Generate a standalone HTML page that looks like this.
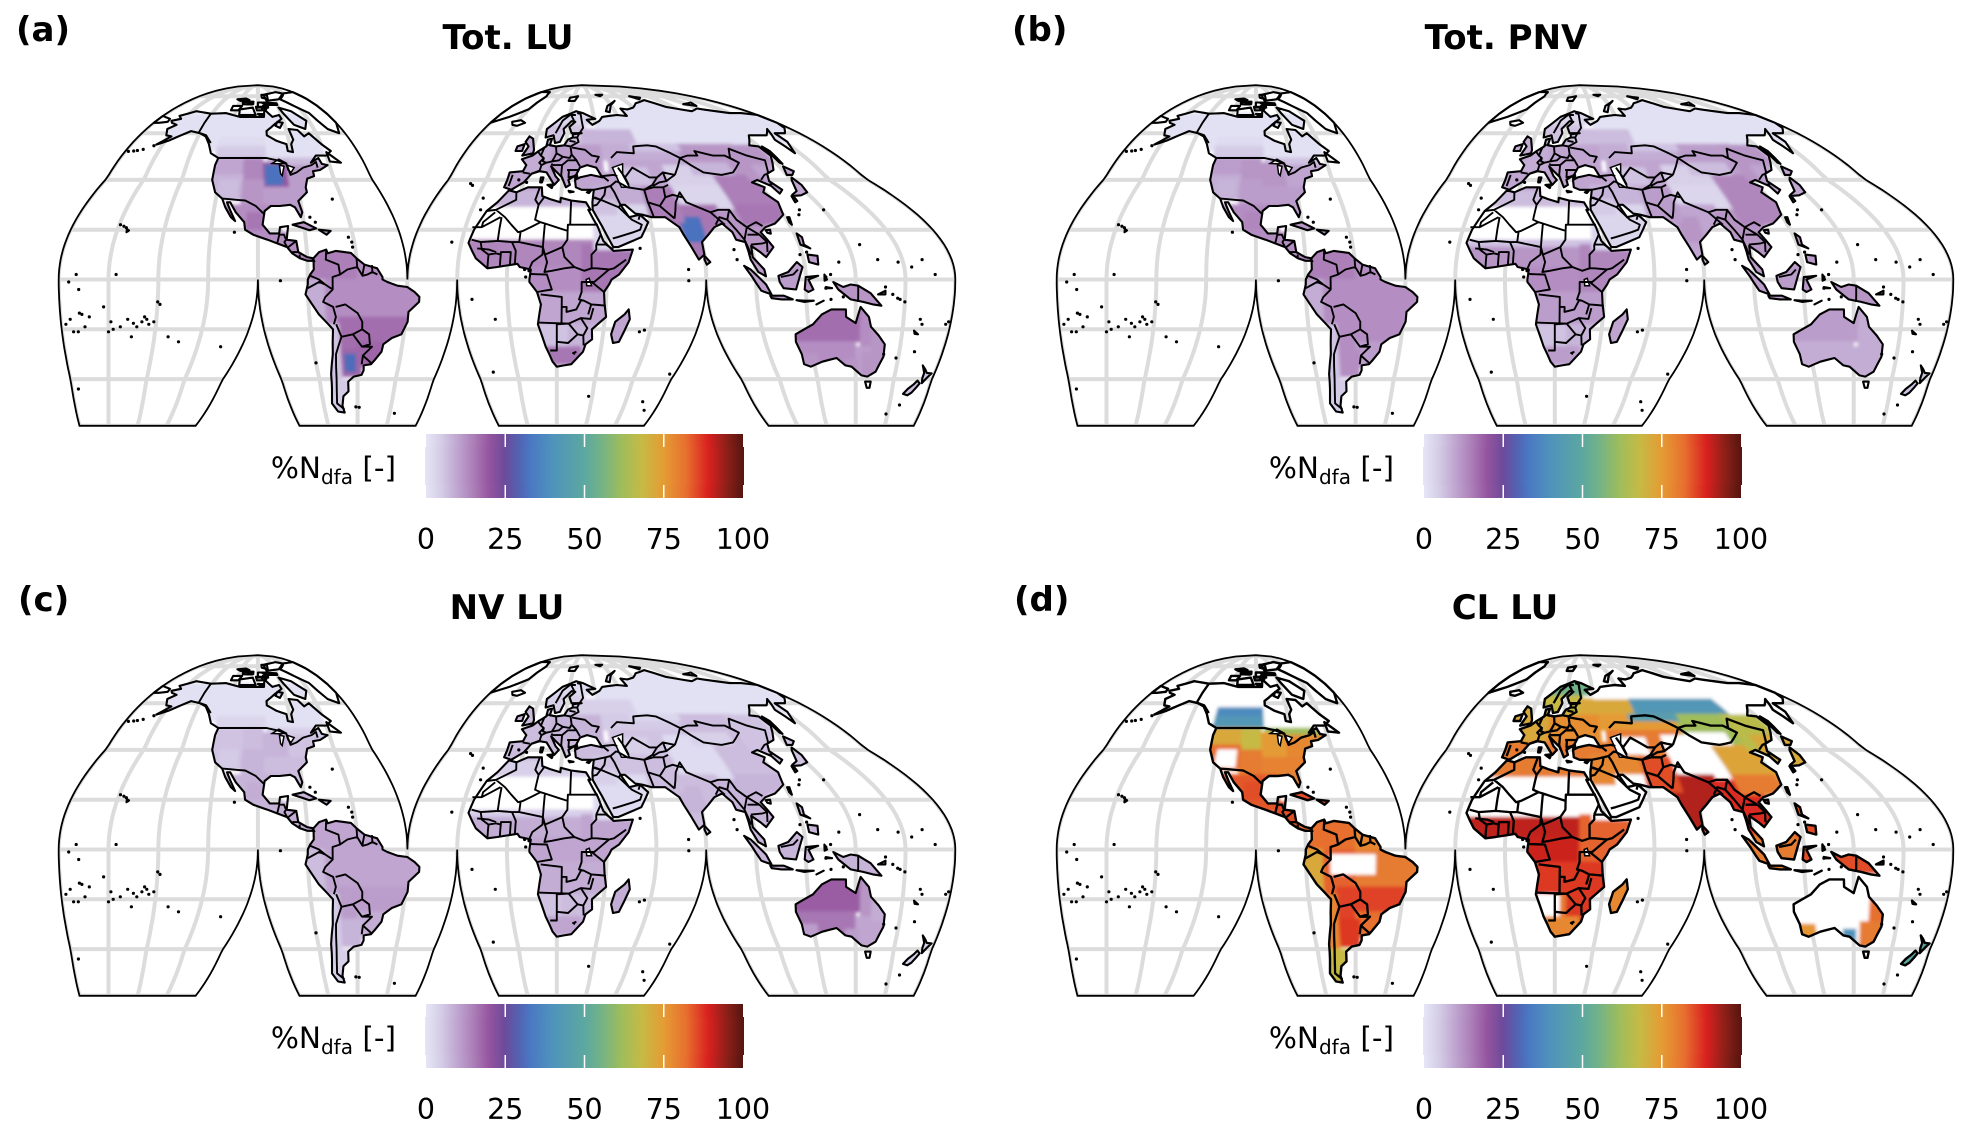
<!DOCTYPE html>
<html lang="en">
<head>
<meta charset="utf-8">
<title>Global maps of %Ndfa</title>
<style>
html,body{margin:0;padding:0;background:#fff}
svg{display:block}
text{font-family:"DejaVu Sans","Liberation Sans",sans-serif;fill:#000}
.panel-letter,.panel-title{font-weight:bold;font-size:34px}
.cb-label{font-size:29.5px}
.cb-tick{font-size:28.5px}
</style>
</head>
<body>
<svg id="figure" width="1974" height="1135" viewBox="0 0 1974 1135" xmlns="http://www.w3.org/2000/svg">
  <defs id="defs">
    <filter id="soften" x="-5%" y="-5%" width="110%" height="110%"><feGaussianBlur stdDeviation="1.6"/></filter>
  </defs>
  <rect width="1974" height="1135" fill="#fff"/>
  <g id="panel-a" transform="translate(0,0)">
    <text class="panel-letter" x="16" y="41">(a)</text>
    <text class="panel-title" x="508" y="49" text-anchor="middle">Tot. LU</text>
    <text class="cb-label" x="396" y="478" text-anchor="end">%N<tspan font-size="20" dy="6">dfa</tspan><tspan dy="-6"> [-]</tspan></text>
  </g>
  <g id="panel-b" transform="translate(998,0)">
    <text class="panel-letter" x="14" y="41">(b)</text>
    <text class="panel-title" x="508" y="49" text-anchor="middle">Tot. PNV</text>
    <text class="cb-label" x="396" y="478" text-anchor="end">%N<tspan font-size="20" dy="6">dfa</tspan><tspan dy="-6"> [-]</tspan></text>
  </g>
  <g id="panel-c" transform="translate(0,570)">
    <text class="panel-letter" x="18" y="41">(c)</text>
    <text class="panel-title" x="507" y="49" text-anchor="middle">NV LU</text>
    <text class="cb-label" x="396" y="478" text-anchor="end">%N<tspan font-size="20" dy="6">dfa</tspan><tspan dy="-6"> [-]</tspan></text>
  </g>
  <g id="panel-d" transform="translate(998,570)">
    <text class="panel-letter" x="16" y="41">(d)</text>
    <text class="panel-title" x="507" y="49" text-anchor="middle">CL LU</text>
    <text class="cb-label" x="396" y="478" text-anchor="end">%N<tspan font-size="20" dy="6">dfa</tspan><tspan dy="-6"> [-]</tspan></text>
  </g>
</svg>
<script>
const N = null;
const panelIds = ['a', 'b', 'c', 'd'];
const tickValues = [0, 25, 50, 75, 100];
const tickLabels = ['0', '25', '50', '75', '100'];
const colorStopValues = [0, 5, 10, 15, 20, 25, 30, 33, 40, 50, 55, 62, 68, 75, 82, 89, 95, 100];
const colorStopHexes = ['#e6e6f6', '#d4cbe6', '#bfa5d0', '#ac7fb8', '#95559f', '#6d4a9b', '#5066b5', '#4a78c2', '#4f93bc', '#5ca8a0', '#72b288', '#a0bd5a', '#c6ba45', '#e59b34', '#e76f2f', '#d9201f', '#8a1f18', '#561510'];

/* Geographic regions: [lonMin, latMin, lonMax, latMax] */
const regionBoxes = [
 /* North America */
 [-170,58,-60,70],[-170,52,-125,58],[-125,54,-95,58],[-125,49,-95,54],[-95,49,-60,58],[-95,46,-60,49],
 [-125,42,-108,49],[-108,40,-97,49],[-97,37,-84,47],[-84,37,-60,46],[-125,32,-108,42],[-108,30,-97,40],
 [-97,25,-75,37],[-120,33,-110,40],[-118,15,-90,30],[-105,20,-98,27],[-92,6,-75,19],[-85,17,-60,24],
 /* South America */
 [-82,0,-60,13],[-60,0,-48,13],[-82,-18,-73,0],[-73,-20,-60,0],[-60,-15,-34,0],[-70,-10,-52,-2],
 [-68,-30,-34,-15],[-60,-35,-48,-25],[-69,-39,-58,-28],[-76,-40,-68,-18],[-76,-56,-58,-40],
 /* Africa */
 [-20,29,40,38],[-20,24,40,29],[-20,16,40,24],[-20,13,40,16],[-20,5,40,13],[-20,-5,40,5],
 [30,-5,52,14],[10,-18,42,-5],[10,-35,25,-18],[12,-28,22,-18],[25,-35,40,-18],[15,-34,31,-27],[43,-26,51,-11],
 /* Eurasia */
 [-12,43,12,60],[12,43,42,55],[-12,36,45,43],[4,55,32,64],[4,64,40,72],[30,55,65,62],
 [40,62,180,78],[65,55,125,62],[42,48,90,55],[45,36,90,48],[50,38,66,45],[88,42,120,55],
 [75,28,100,38],[75,38,100,46],[100,22,125,42],[118,40,140,55],[125,55,180,62],[66,7,92,30],
 [73,15,82,25],[90,5,110,28],[100,22,120,30],[35,30,62,38],[35,12,60,30],[35,26,46,32],
 [60,23,75,37],[125,30,146,46],
 /* Oceania */
 [95,-10,120,6],[118,-12,155,2],[117,5,127,20],[113,-25,142,-10],[113,-39,140,-25],[142,-27,155,-10],
 [140,-40,155,-27],[113,-36,122,-30],[135,-39,141,-32],[165,-48,180,-34],
 /* Refinements */
 [60,52,90,55],[90,42,112,47],[147,-30,155,-15],[143,-40,155,-29],[-96,38,-87,46],[-66,-37,-61,-30]
];
const valuesTotLU = [
 1,1,2,5,1,7, 10,14,20,11,8,12, 11,7,13,16,13,12,
 15,13,9,13,13,13, 17,18,18,6,5,
 8,N,N,14,14,13, 16,10,6,6,8,16,10,
 9,11,10,6,3,8, 1,1,9,10,6,12, 3,4,15,12,1,16, 32,12,16,9,3,6, 15,10,
 11,12,11,17,13,13, 11,12,12,6,
 6,8,12,12,32,31
];
const valuesTotPNV = [
 1,1,2,5,1,6, 11,12,12,10,9,11, 11,8,13,14,13,12,
 15,13,9,13,13,13, 13,11,13,6,5,
 7,N,N,6,12,13, 14,11,6,6,8,11,10,
 9,10,10,6,3,7, 1,1,9,10,6,11, 3,4,14,12,1,10, 12,12,14,8,3,5, 11,10,
 11,12,11,11,9,9, 9,9,9,6,
 6,7,9,9,12,13
];
const valuesNVLU = [
 1,1,1,3,1,4, 6,7,8,6,6,8, 7,5,8,9,9,8,
 10,10,7,10,10,10, 11,9,8,5,4,
 4,N,N,4,9,10, 10,9,7,6,7,10,9,
 7,8,7,4,2,4, 1,1,5,6,4,7, 2,2,7,6,1,7, 8,8,8,6,2,4, 7,6,
 8,8,8,19,16,12, 10,11,11,4,
 3,4,9,10,8,8
];
const valuesCLLU = [
 N,N,38,42,N,62, 72,68,75,78,82,80, 79,N,84,85,85,85,
 82,78,72,83,80,N, 86,82,87,78,68,
 80,N,N,N,91,90, 83,87,80,N,87,78,78,
 72,77,80,68,55,72, N,42,75,80,N,62, N,N,73,66,N,92, 92,88,80,78,N,78, 85,72,
 80,85,85,N,N,N, N,76,40,50,
 45,N,82,80,75,87
];

/* Land outlines: lon,lat vertices */
const landPolygons = [
 [[-168,66],[-162,67],[-166,68.5],[-156,71],[-141,69.7],[-128,70],[-115,68],[-108,68],[-95,68],[-94,72],[-88,68],[-82,69],[-81,67],[-87,64.5],[-94,61],[-94,59],[-88,56.5],[-82,55],[-82,52],[-79,51.5],[-79,55],[-77,57],[-78,62],[-72,61.5],[-69,58.5],[-65,60],[-60,55],[-56,52],[-60,50],[-66,50],[-70,47],[-65,49],[-64,46.5],[-61,46],[-66,44],[-70,43.5],[-70,41.5],[-74,40.5],[-76,37],[-76,35],[-81,31.5],[-80,27],[-81,25],[-83,29],[-85,30],[-90,29.5],[-94,29.5],[-97,27.5],[-98,22],[-95,18.5],[-91,18.5],[-90.5,21],[-87,21.5],[-88,16],[-84,15.5],[-83.5,11],[-80,9],[-77.5,8.5],[-78,7.5],[-80,7.5],[-83,8.5],[-86,10.5],[-88,13],[-92,14.5],[-96,16],[-102,18],[-105.5,20],[-106,23],[-110,27],[-113,31],[-114.5,31],[-110,23.5],[-112,25],[-115,29],[-117,32.5],[-121,35],[-124,40],[-124,46],[-123,49],[-128,51],[-131,55],[-135,58.5],[-140,60],[-147,61],[-152,59],[-158,56.5],[-164,54.8],[-158,58.5],[-162,59],[-165,62],[-161,64],[-166,65]],
 [[-77.5,8.5],[-75,11],[-72,12],[-71.5,10.5],[-68,11.5],[-62,10.7],[-60,8.5],[-57,6],[-52,4.5],[-50,1],[-50,0],[-48,-1],[-44,-2.5],[-40,-3],[-37,-5],[-35,-7],[-35,-9],[-39,-13],[-39,-17],[-41,-22],[-45,-23.5],[-48.5,-26],[-49,-29],[-52,-32.5],[-53.5,-34],[-57,-34.5],[-57,-36.5],[-58,-38.3],[-62,-39],[-65,-41],[-65,-45],[-68,-47],[-69,-51],[-68,-54],[-72,-53.5],[-75,-50],[-74,-44],[-73.5,-38],[-71.5,-30],[-70.5,-20],[-76,-14],[-81,-6],[-80,-2],[-80,0],[-79,2],[-77.5,4],[-77.5,7]],
 [[-6,35.8],[-2,35],[3,37],[10,37],[11,33.5],[15,32.3],[20,31],[20,32.8],[25,31.7],[32,31],[34,28],[33,28],[37,21],[39,15.5],[43,11.5],[51,12],[49,7],[45,2],[42,0],[41,-2],[39,-5],[39.5,-10],[40.5,-15],[35,-20],[35.5,-24],[32.8,-26],[32,-29],[27,-34],[20,-35],[18,-33],[15,-27],[12,-18],[13.5,-10],[12,-5],[9,-1],[9,0],[9.5,4],[5,5],[4,6.3],[-4,5],[-8,4.5],[-13,8.5],[-17,14.7],[-16,20],[-13,27.5],[-9.5,31]],
 [[-9,37],[-9,43],[-2,43.5],[-1,46],[-4.5,48.5],[1,50],[4,52],[8,54],[8,57],[10.5,57.5],[10,54.5],[14,54],[19,54.5],[21,57],[24,58],[24,59.5],[30,60],[23,60],[21,63],[25,65.5],[22,65.8],[17,62],[18,60],[16,56],[13,55.5],[11,59],[6,58],[5,62],[14,68],[25,71],[31,70],[41,67],[34,66.5],[38,64],[44,66],[47,68],[60,69],[68,68.5],[67,72.5],[73,72],[80,73],[88,75.5],[104,77.5],[113,73.5],[130,71],[140,72.5],[160,70],[170,70],[179.9,69],[179.9,65],[177,62.5],[170,60],[163,60],[162,56],[157,51],[156,57],[163,62],[155,59],[143,59],[135,54.5],[140,54],[141,50],[135,44],[130,42.5],[127.5,39.5],[129.5,36],[126.5,34.5],[126,37.5],[122,40],[118,39],[122,37],[119,35],[122,31],[120,26],[114,22.5],[109,21],[106,19],[109,13],[105,9],[103,11],[100,13.5],[99.5,9],[103.5,4],[104,1.3],[101,3],[98.5,8],[98,15],[94.5,16],[94,19],[91,22.5],[87,21],[80,15],[80,10],[77.5,8],[73,18],[72,21],[67,25],[61,25],[57,26],[54,26.5],[50,30],[48,30],[51,25],[56,26],[59,23],[55,17],[45,13],[43,13],[39,21],[35,28],[35,31],[36,36],[30,36],[27,37],[26.5,40],[29,41],[35,42],[41,41],[38,45],[33,46],[29,45],[27,42],[23,40],[24,38],[22,37],[19.5,41],[13,45.5],[16,41.5],[18,40],[16,38],[11,43],[7,43.5],[3,42.5],[0,39],[-5,36]],
 [[114,-22],[122,-18],[126,-14],[130,-12],[136,-12],[136,-15],[140,-17.5],[142,-11],[145.5,-15],[146.5,-19],[150,-22.5],[153,-26],[153,-31],[150,-37],[146,-39],[143,-38.5],[138,-35],[135,-34.5],[131,-31.5],[124,-33],[118,-35],[115,-34],[115,-30],[113.5,-25]],
 [[49.5,-12],[50.5,-16],[47.5,-25],[45,-25.5],[43.5,-22],[44.5,-17],[48,-14]],
 [[-40.01,83],[-60,82],[-73,78],[-68,76],[-55,70],[-53,66],[-50,62],[-44,60],[-40.01,65]],
 [[-39.99,83],[-25,83],[-18,80],[-20,72],[-30,68],[-39.99,65]],
 [[-80,73],[-70,71],[-62,66],[-66,62],[-73,64],[-78,70]],
 [[-117,72],[-105,73],[-102,69],[-116,69]],
 [[-90,77],[-75,78],[-62,82],[-70,83],[-92,81]],
 [[-125,74],[-116,74],[-118,71.5],[-125,71.5]],
 [[-100,76],[-90,76],[-90,73],[-100,73]],
 [[-115,76.5],[-105,76.5],[-105,75],[-115,75]],
 [[-96,76],[-80,75.5],[-80,74.5],[-92,74.5]],
 [[-117,76.5],[-106,76],[-106,74.8],[-116,75]],
 [[-95,81],[-87,81],[-88,78],[-95,79]],
 [[-102,73.5],[-96,73.5],[-96,71.5],[-101,71.5]],
 [[-95,74],[-90,73.8],[-93,71.5]],
 [[-100,69.5],[-95,69.5],[-97,68.5]],
 [[-125,78],[-115,78.5],[-110,77.5],[-120,77]],
 [[-85,65.5],[-81,65],[-84,62.5],[-87,63.5]],
 [[-59,51.5],[-53,47],[-59,47.5]],
 [[-85,22],[-80,23],[-75,20.5],[-78,19.8]],
 [[-74,20],[-69,19.5],[-71,18]],
 [[-5,58.5],[-2,57.5],[1,52.5],[1,51],[-5,50],[-3,54],[-6,56]],
 [[-10,54],[-6,55],[-6,52],[-10,52]],
 [[-24,65.5],[-18,66.3],[-13.5,65],[-18,63.5],[-22,64]],
 [[15,79],[25,80],[22,77],[15,77]],
 [[52,71],[56,74],[68,77],[60,74.5],[55,70.5]],
 [[137,75],[150,76],[146,74]],
 [[95,80],[105,79],[100,78]],
 [[50,81],[60,81],[55,80]],
 [[130,31],[131.5,31.5],[132,34],[136,35.5],[140,40],[141.5,41],[142,38],[140.5,35],[136,33.8],[131,33.5]],
 [[140,42],[142,45.5],[145.5,43.5],[143,42]],
 [[142,54],[143.5,52],[143,46.5],[142,47]],
 [[120.5,23],[121,25],[122,25],[121,22]],
 [[80,9.5],[82,7],[80.5,6],[79.8,8]],
 [[95.5,5.5],[98,4],[104,-2],[106,-6],[102,-4.5],[98.5,1]],
 [[105.5,-6.5],[111,-6.5],[114.5,-8],[110,-8],[106,-7.5]],
 [[116,-8.3],[119,-8.5],[123,-8.5],[119,-9]],
 [[124,-10],[127,-8.5],[125,-9.5]],
 [[127.5,2],[128.5,0],[127.5,-0.5]],
 [[128,-3],[130.5,-3.5],[128,-3.5]],
 [[109,1.5],[113,3],[117,7],[119,5],[117.5,1],[116,-4],[111,-3.5],[109.5,-1]],
 [[120,1],[125,1.5],[121,0],[123,-4],[121,-5],[119.5,-4]],
 [[131,-1],[135,-3],[138,-2],[141,-2.5],[146,-5.5],[150.5,-10.5],[147,-10],[143,-9],[138,-8],[133,-4]],
 [[121,18.5],[122.5,17],[122,14],[124,12.5],[120.5,14]],
 [[122,10],[126,9.5],[125.5,6],[122,7]],
 [[145,-41],[148,-41],[147.5,-43.5],[146,-43.5]],
 [[172.7,-34.5],[174.5,-36],[176,-37.5],[178.5,-37.7],[177,-39.5],[175.3,-41.6],[174.7,-39.5],[174.7,-37.5]],
 [[172.7,-40.6],[174.2,-41.7],[172.8,-43.5],[171,-45.5],[169,-46.6],[166.5,-46],[168.5,-44],[171,-42.2]],
 [[-179.9,68.5],[-171,67],[-170,65.5],[-176,65],[-179.9,65]],
 [[108.5,19.8],[110.5,20],[110,18.4],[108.7,18.8]],
 [[152,-4.5],[152,-6],[149,-6],[151,-5]],
 [[-156,20.2],[-155,19.7],[-155.8,19]],
 [[165,-20.5],[167,-22],[165.5,-21.8]],
 [[8.3,41],[9.7,41],[9.5,39],[8.5,39]],
 [[12.5,38],[15.5,38.2],[15,36.7]],
 [[23.5,35.6],[26,35.2],[24,35]],
 [[32.5,35],[34.5,35.6],[33.5,34.7]]
];

/* Lakes and inland seas */
const lakePolygons = [
 [[47,45],[53,46.5],[52,42],[54,37],[50,37],[49,40]],
 [[-88,48.5],[-84.5,47],[-87,46.5],[-92,46.7]],
 [[-88,46],[-85.5,45.5],[-87,41.7],[-87.8,42.5]],
 [[-84,46],[-80,45],[-82,43],[-83.5,44]],
 [[33,0.5],[34,-2.5],[32,-2.5],[31.8,0]]
];

/* Country borders: lon,lat polylines */
const borderLines = [
 [[-141,69.7],[-141,60.3]],[[-141,60.3],[-135,59],[-130,55.5]],
 [[-123,49],[-95,49],[-89,48],[-84,46.5],[-82.5,42],[-79,43],[-75,45],[-70,46],[-67,47.3],[-67,45]],
 [[-117,32.5],[-106,31.7],[-101,29.5],[-97,26]],
 [[-92,14.5],[-91,18],[-89,18],[-88.3,16]],[[-88,13],[-89,15],[-88.3,16]],[[-87.5,13],[-84,15.5]],[[-86,11],[-83.6,11]],[[-83,8.5],[-83,10]],
 [[-77.5,8],[-77,7]],
 [[-72,12],[-72.5,8],[-70,7],[-67.5,6],[-67,2],[-70,1],[-70,-4],[-73,-2],[-75.5,0],[-79,1.5]],
 [[-67,2],[-64,4],[-60,5],[-60,8.5]],[[-60,5],[-58,1.5],[-56,2],[-54,3],[-52,2]],[[-57,6],[-58,2]],[[-54,5.8],[-54,3]],
 [[-80,-3.5],[-75.5,-1],[-73,-2]],[[-70,-4],[-73,-7],[-74,-9],[-70,-11],[-69,-15],[-70,-18]],
 [[-69,-11],[-65,-10],[-60,-13.5],[-58,-17],[-58,-20],[-62,-22],[-67,-23],[-69,-18]],
 [[-67,-23],[-70,-30],[-71,-40],[-72,-50],[-68,-52.5]],
 [[-62,-22],[-58,-27],[-54.5,-26],[-55,-22],[-58,-20]],[[-58,-27],[-53.5,-27],[-57.5,-30.5],[-58,-34]],[[-57.5,-30.5],[-53.5,-33.5]],
 [[-2,35],[-1,32],[-9,28],[-13,27.5]],[[-9,28],[-4,25],[3,19],[5,19.5],[12,23],[14,22.5],[24,19.5],[24,22],[25,22],[25,31.5]],
 [[9,37],[8,32],[10,30],[9.5,24],[12,23]],[[10,30],[12,33]],[[25,22],[37,22]],[[24,19.5],[24,16],[22,13],[23,9],[27,5],[31,3.5],[34,4.5],[36,4.5],[41,4],[43,4.5],[48,8]],
 [[-17,21],[-13,21],[-13,23],[-9,27]],[[-13,21],[-6,25]],[[-16,16],[-12,15],[-5,15.5],[-5.5,25]],[[-12,15],[-11,12],[-8,10],[-8,7.5],[-8,4.5]],[[-5,15.5],[1,15],[4,15],[4,19]],
 [[4,15],[14,13],[14,22.5]],[[1,15],[3,11.5],[3,6.3]],[[-3,5],[-3,11],[1,11],[1,6]],[[-5,10.5],[-3,10]],[[-8,10],[-5,10.5]],[[-13,12.5],[-8,12],[-5,11]],
 [[14,13],[14,10],[10,7],[9,4.5]],[[14,13],[15,10],[16,7],[15,3],[18,3.5],[23,4.5],[27,5]],[[22,13],[15,10]],[[36,14],[36,12],[34,10],[34,4.5]],[[36,14],[38,18]],[[36,14],[40,14],[43,12]],
 [[41,4],[35,-1],[30,-1],[30,-5],[29,-8],[31,-8.5],[34,-10],[40,-10.5]],[[34,-1],[39,-5]],[[9.5,2.2],[16,2],[18,-4],[12,-5]],[[13.5,-6],[22,-7],[22,-11],[24,-11],[24,-13],[28,-12],[30,-8]],
 [[12,-17.3],[18,-17.5],[25,-17.7],[30,-15.5],[34,-15.8],[35,-11.5]],[[22,-11],[22,-18]],[[25,-17.7],[20,-18],[20,-22],[20,-28.5],[17,-28.5]],[[20,-25],[25,-25.5],[29,-22],[31.5,-22.5],[32,-26.5]],[[25,-17.7],[29,-22]],[[30,-15.5],[33,-19.5],[31.5,-22.5]],[[33,-14],[34,-10]],[[28.5,-30],[27.5,-29.5],[29,-29]],
 [[2,42.5],[-2,43]],[[-7,42],[-7,37.5]],[[3,42.5],[7,43.7],[7.5,46],[6,47],[8,49],[6,50],[4,51.5]],[[6,50],[7,53.5]],[[9,54.8],[14,54]],[[7,53.5],[9,54.8]],[[8,49],[8,47.5],[10,47],[13,47.5],[14,49],[15,51],[14,54]],[[13,47.5],[17,48],[19,49.5],[23,49],[24,50.5],[23,54],[19,54.5]],[[15,51],[19,49.5]],[[13.5,46],[17,46],[19,46],[22,48],[27,48],[29,45.5]],[[19,46],[19,42],[20,40]],[[23,44],[23,41],[26,41.5],[28,42]],[[22,44],[28,44]],[[10,47],[7.5,46]],[[13.5,46],[13,46.7]],
 [[24,53.5],[32,52.5],[36,50],[40,49.5],[38,47]],[[24,50.5],[27,48]],[[23,54],[28,56],[27,58],[28,59.5]],[[22,56.5],[26,56]],[[24,58],[27,58]],[[28,59.5],[31,62.5],[29,69.5],[26,70]],[[25,69],[21,69],[24,66]],[[12,60],[15,66],[20,69]],
 [[26,40.5],[28,41.5]],[[36,36],[42,37],[44.5,37.5],[48,39.5]],[[44,39.5],[41,41.5]],[[41,41.5],[47,42],[49,41.5]],[[36,33],[39,32],[41,34],[42,37]],[[35,33],[39,32],[37,30],[35,29.5]],[[39,32],[47,29],[48,30]],[[47,29],[52,24],[56,22],[55,20],[52,19],[45,17],[43,16.5]],[[55,24],[56,26]],
 [[44.5,37.5],[46,35],[48,30]],[[48,39.5],[53,37],[61,36],[61,31],[62,25]],[[61,36],[66,37],[71,37],[74,38]],[[61,31],[66,29.5],[70,33],[71,37]],[[70,33],[74,34],[78,33]],[[66,29.5],[71,24.5]],[[71,24.5],[74,31],[78,35],[79,31],[88,27],[92,28],[97,28],[94,24],[91,25],[88,22]],[[88,27],[92,22]],
 [[50,45],[53,41],[58,45],[62,43],[66,41],[70,41],[74,43],[80,42]],[[53,41],[54,38]],[[61,36],[66,38],[70,41]],[[66,37.5],[70,39],[74,39.5],[74,43]],
 [[47,49],[51,51.5],[61,51],[62,54],[71,54.5],[76,54],[83,51],[87,49]],[[87,49],[80,42]],[[87,49],[92,50],[98,50],[98,52],[107,50],[114,50],[119,47],[112,43],[105,42],[96,43],[91,46],[87,49]],[[119,47],[116,49],[120,53],[127,50],[135,48],[131,43],[130,42.5]],[[124,40],[128,42],[130,42.5]],[[125,38],[128,38.5]],[[80,42],[74,39.5]],[[97,28],[98,24],[101,21],[106,23],[108,21.5]],[[94,24],[98,16]],[[101,21],[98,16],[99,10]],[[101,21],[105,18],[107,15],[106,11]],[[100,14],[105,14.5],[107,15]],[[100,18],[105,18]],
 [[141,-2.5],[141,-9]],[[117,4],[115,2],[110,1]]
];

/* Small islands: lon,lat */
const islandPoints = [
 [-155.5,19.6],[-156.5,20.8],[-157.8,21.4],[-159.5,22],[-170,52.7],[-175,52],[-178,51.8],[-165,54.3],[-173,52.2],
 [-91,-0.5],[-149.5,-17.6],[-171,-14],[-175,-21],[-178,-18],[-172,-13.5],[-145,-15],[-140,-9],[-139,-10],[-170,-19],[-160,-21],[-158,-20],[-146,-17],[-150,-23],[-173,2],[-157,2],[-173,-21],[-176,-16],[-168,-15],[-155,-19],[-152,-16],[-148,-19],[-144,-16],[-143,-18],[-141,-17],[-134,-23],[-129,-25],[-109.5,-27],[-80,-33.5],[-176,-1],[-172,-4],[-159,-17],[-162,-11],
 [-59,-51.7],[-61,-51.5],[-37,-54.3],[-16,28],[-27,38.5],[-25.5,37.8],[-24,15],[-17,32.7],[57.5,-20.3],[55.5,-21],[70,-49.3],[73,4],[73,-0.5],[145,14],[150,8],[158,7],[163,5],[168,8],[172,2],[134,7],[160,-9],[158,-8],[157,-7.5],[167,-16],[168,-18],[178,-18],[179,-17],[-64.7,32.3],[-61,15],[-61,13],[-62,17],[-77,25],[-75,23],[-110,19],[-12,-37.2],[-5.7,-16],[-14.4,-8],[38,-47],[77.5,-38],[73.5,-53],[166,-50.7],[159,-54.6],[-176.5,-44],[127,26],[129,28],[140,28],[153,-30],[159,-31.5],[167,-29],[7,4],[7.5,1],[8.8,3.5],[14,37.5],[-3,40],[1.5,39],
 [54,12.5],[92.5,12],[93,8],[122,11],[119,10],[128,-3.5],[128,1],[130,-8],[135,-7],[152,-3],[155,-6],[130,2]
];

const R = 142.7;
const CENTER_X = 507;
const EQUATOR_Y = 279.5;
const SVG_NS = 'http://www.w3.org/2000/svg';
const DEG = Math.PI / 180;

function solveTheta(phi) {
  let t = phi;
  const target = Math.PI * Math.sin(phi);
  for (let i = 0; i < 30; i++) {
    const d = (2 * t + Math.sin(2 * t) - target) / (2 + 2 * Math.cos(2 * t) + 1e-9);
    t -= d;
  }
  return t;
}
function lobeCenter(lon, lat) {
  if (lat >= 0) return lon < -40 ? -100 : 30;
  if (lon < -100) return -160;
  if (lon < -20) return -60;
  if (lon < 80) return 20;
  return 140;
}
function project(lon, lat, forcedCenter) {
  const c = forcedCenter === undefined ? lobeCenter(lon, lat) : forcedCenter;
  const lam = (lon - c) * DEG;
  const phi = lat * DEG;
  let x, y;
  if (Math.abs(lat) <= 40.7367) {
    x = lam * Math.cos(phi);
    y = phi;
  } else {
    const th = solveTheta(phi);
    x = (2 * Math.SQRT2 / Math.PI) * lam * Math.cos(th);
    y = Math.SQRT2 * Math.sin(th) - Math.sign(lat) * 0.0528;
  }
  return [CENTER_X + (c * DEG + x) * R, EQUATOR_Y - y * R];
}
function pathOf(points) {
  return 'M' + points.map(p => p[0].toFixed(1) + ' ' + p[1].toFixed(1)).join('L');
}
function densify(poly) {
  const out = [];
  for (let i = 0; i < poly.length; i++) {
    const a = poly[i];
    const b = poly[(i + 1) % poly.length];
    const n = Math.max(1, Math.ceil(Math.max(Math.abs(b[0] - a[0]), Math.abs(b[1] - a[1])) / 5));
    for (let k = 0; k < n; k++) {
      out.push([a[0] + (b[0] - a[0]) * k / n, a[1] + (b[1] - a[1]) * k / n]);
    }
  }
  return out;
}
function polygonPath(poly) {
  return pathOf(densify(poly).map(p => project(p[0], p[1]))) + 'Z';
}
function linePath(line) {
  const pts = [];
  for (let i = 0; i < line.length - 1; i++) {
    const a = line[i];
    const b = line[i + 1];
    const n = Math.max(1, Math.ceil(Math.max(Math.abs(b[0] - a[0]), Math.abs(b[1] - a[1])) / 5));
    for (let k = 0; k < n; k++) {
      pts.push(project(a[0] + (b[0] - a[0]) * k / n, a[1] + (b[1] - a[1]) * k / n));
    }
  }
  const last = line[line.length - 1];
  pts.push(project(last[0], last[1]));
  return pathOf(pts);
}
function edgeRun(lon, lat1, lat2, center) {
  const pts = [];
  const step = lat2 > lat1 ? 2 : -2;
  for (let lat = lat1; step > 0 ? lat <= lat2 : lat >= lat2; lat += step) {
    pts.push(project(lon, lat, center));
  }
  return pts;
}
function boundaryPath() {
  let pts = [];
  pts = pts.concat(edgeRun(-100, -60, 0, -160), edgeRun(-100, 0, -60, -60));
  pts = pts.concat(edgeRun(-20, -60, 0, -60), edgeRun(-20, 0, -60, 20));
  pts = pts.concat(edgeRun(80, -60, 0, 20), edgeRun(80, 0, -60, 140));
  pts = pts.concat(edgeRun(180, -60, 0, 140), edgeRun(180, 0, 90, 30));
  pts = pts.concat(edgeRun(-40, 90, 0, 30), edgeRun(-40, 0, 90, -100));
  pts = pts.concat(edgeRun(-180, 90, 0, -100), edgeRun(-180, 0, -60, -160));
  return pathOf(pts) + 'Z';
}
function splitCells(box) {
  const cells = [];
  const bands = [];
  if (box[3] > 0) bands.push([Math.max(box[1], 0), box[3], [-40]]);
  if (box[1] < 0) bands.push([box[1], Math.min(box[3], 0), [-100, -20, 80]]);
  bands.forEach(b => {
    let edges = [box[0]];
    b[2].forEach(c => { if (c > box[0] && c < box[2]) edges.push(c); });
    edges.push(box[2]);
    for (let i = 0; i < edges.length - 1; i++) {
      cells.push([edges[i], b[0], edges[i + 1], b[1]]);
    }
  });
  return cells;
}
function cellPath(cell) {
  const c = lobeCenter((cell[0] + cell[2]) / 2, (cell[1] + cell[3]) / 2);
  const pts = densify([[cell[0], cell[1]], [cell[2], cell[1]], [cell[2], cell[3]], [cell[0], cell[3]]]);
  return pathOf(pts.map(p => project(p[0], p[1], c))) + 'Z';
}
function hexToRgb(h) {
  return [parseInt(h.slice(1, 3), 16), parseInt(h.slice(3, 5), 16), parseInt(h.slice(5, 7), 16)];
}
function colorFor(v) {
  if (v === null) return '#ffffff';
  let i = 0;
  while (i < colorStopValues.length - 2 && v > colorStopValues[i + 1]) i++;
  const t = (v - colorStopValues[i]) / (colorStopValues[i + 1] - colorStopValues[i]);
  const a = hexToRgb(colorStopHexes[i]);
  const b = hexToRgb(colorStopHexes[i + 1]);
  return 'rgb(' + a.map((c, k) => Math.round(c + (b[k] - c) * t)).join(',') + ')';
}
function el(tag, parent, attrs) {
  const e = document.createElementNS(SVG_NS, tag);
  Object.keys(attrs).forEach(k => e.setAttribute(k, attrs[k]));
  parent.appendChild(e);
  return e;
}

const panelValues = [valuesTotLU, valuesTotPNV, valuesNVLU, valuesCLLU];
const defs = document.getElementById('defs');

const grad = el('linearGradient', defs, { id: 'cbar-gradient', x1: '0', x2: '1', y1: '0', y2: '0' });
colorStopValues.forEach((v, i) => {
  el('stop', grad, { offset: (v / 100), 'stop-color': colorStopHexes[i] });
});
const boundaryD = boundaryPath();
const boundaryClip = el('clipPath', defs, { id: 'map-boundary-clip' });
el('path', boundaryClip, { d: boundaryD });
const landClip = el('clipPath', defs, { id: 'land-clip' });
const landD = landPolygons.map(polygonPath).join('');
el('path', landClip, { d: landD });

function graticulePath() {
  let d = '';
  for (let lon = -180; lon <= 180; lon += 20) {
    const north = [];
    const south = [];
    for (let lat = 0; lat <= 90; lat += 2) north.push(project(lon, lat, lon === -180 ? -100 : undefined));
    for (let lat = 0; lat >= -60; lat -= 2) south.push(project(lon, lat, lon === -180 ? -160 : undefined));
    d += pathOf(north) + pathOf(south);
  }
  for (let lat = -60; lat <= 80; lat += 20) {
    const cuts = lat >= 0 ? [-180, -40, 180] : [-180, -100, -20, 80, 180];
    for (let i = 0; i < cuts.length - 1; i++) {
      const center = lobeCenter((cuts[i] + cuts[i + 1]) / 2, lat === 0 ? 1 : lat);
      const pts = [];
      for (let lon = cuts[i]; lon <= cuts[i + 1]; lon += 4) pts.push(project(lon, lat, center));
      d += pathOf(pts);
    }
  }
  return d;
}
const graticuleD = graticulePath();
const bordersD = borderLines.map(linePath).join('');
const lakesD = lakePolygons.map(polygonPath).join('');

function xBar(v) {
  return 426 + (v / 100) * 317;
}

panelIds.forEach((id, pi) => {
  const g = document.getElementById('panel-' + id);
  const values = panelValues[pi];

  const map = el('g', g, {});
  
  

  const grid = el('path', map, { d: graticuleD, fill: 'none', stroke: '#dcdcdc', 'stroke-width': 4, 'clip-path': 'url(#map-boundary-clip)' });
  
  

  const land = el('path', map, { d: landD, fill: '#fff' });
  
  

  const clipGroup = el('g', map, { 'clip-path': 'url(#land-clip)' });
  const heat = el('g', clipGroup, { filter: 'url(#soften)' });
  
  
  regionBoxes.forEach((box, bi) => {
    const color = colorFor(values[bi]);
    splitCells(box).forEach(cell => {
      const p = el('path', heat, { d: cellPath(cell), fill: color, stroke: color, 'stroke-width': 0.8 });
      
      
    });
  });

  const lakes = el('path', map, { d: lakesD, fill: '#fff', stroke: '#000', 'stroke-width': 1.5 });
  
  

  const coast = el('path', map, { d: landD, fill: 'none', stroke: '#000', 'stroke-width': id === 'd' ? 2.4 : 2.1, 'stroke-linejoin': 'round' });
  
  

  const borders = el('path', map, { d: bordersD, fill: 'none', stroke: '#000', 'stroke-width': id === 'd' ? 2.3 : 1.9, 'stroke-linejoin': 'round' });
  
  

  islandPoints.forEach(pt => {
    const xy = project(pt[0], pt[1]);
    const dot = el('circle', map, { cx: xy[0].toFixed(1), cy: xy[1].toFixed(1), r: 1.6, fill: '#000' });
    
    
  });

  const outline = el('path', map, { d: boundaryD, fill: 'none', stroke: '#000', 'stroke-width': 1.8 });
  
  

  const cbar = el('g', g, {});
  
  
  const barTop = el('rect', cbar, { x: xBar(0), y: 434, width: xBar(100) - xBar(0), height: 64, fill: 'url(#cbar-gradient)' });
  
  
  const barMid = el('rect', cbar, { x: xBar(0) - 1, y: 447, width: xBar(100) - xBar(0) + 2, height: 38, fill: 'url(#cbar-gradient)' });
  
  

  tickValues.forEach((v, ti) => {
    if (v > 0 && v < 100) {
      const t1 = el('line', cbar, { x1: xBar(v), x2: xBar(v), y1: 434, y2: 447, stroke: '#fff', 'stroke-width': 1.5 });
      
      
      const t2 = el('line', cbar, { x1: xBar(v), x2: xBar(v), y1: 485, y2: 498, stroke: '#fff', 'stroke-width': 1.5 });
      
      
    }
    const lab = el('text', cbar, { class: 'cb-tick', x: xBar(v), y: 549, 'text-anchor': 'middle' });
    lab.textContent = tickLabels[ti];
    
    
  });
});
</script>
</body>
</html>
